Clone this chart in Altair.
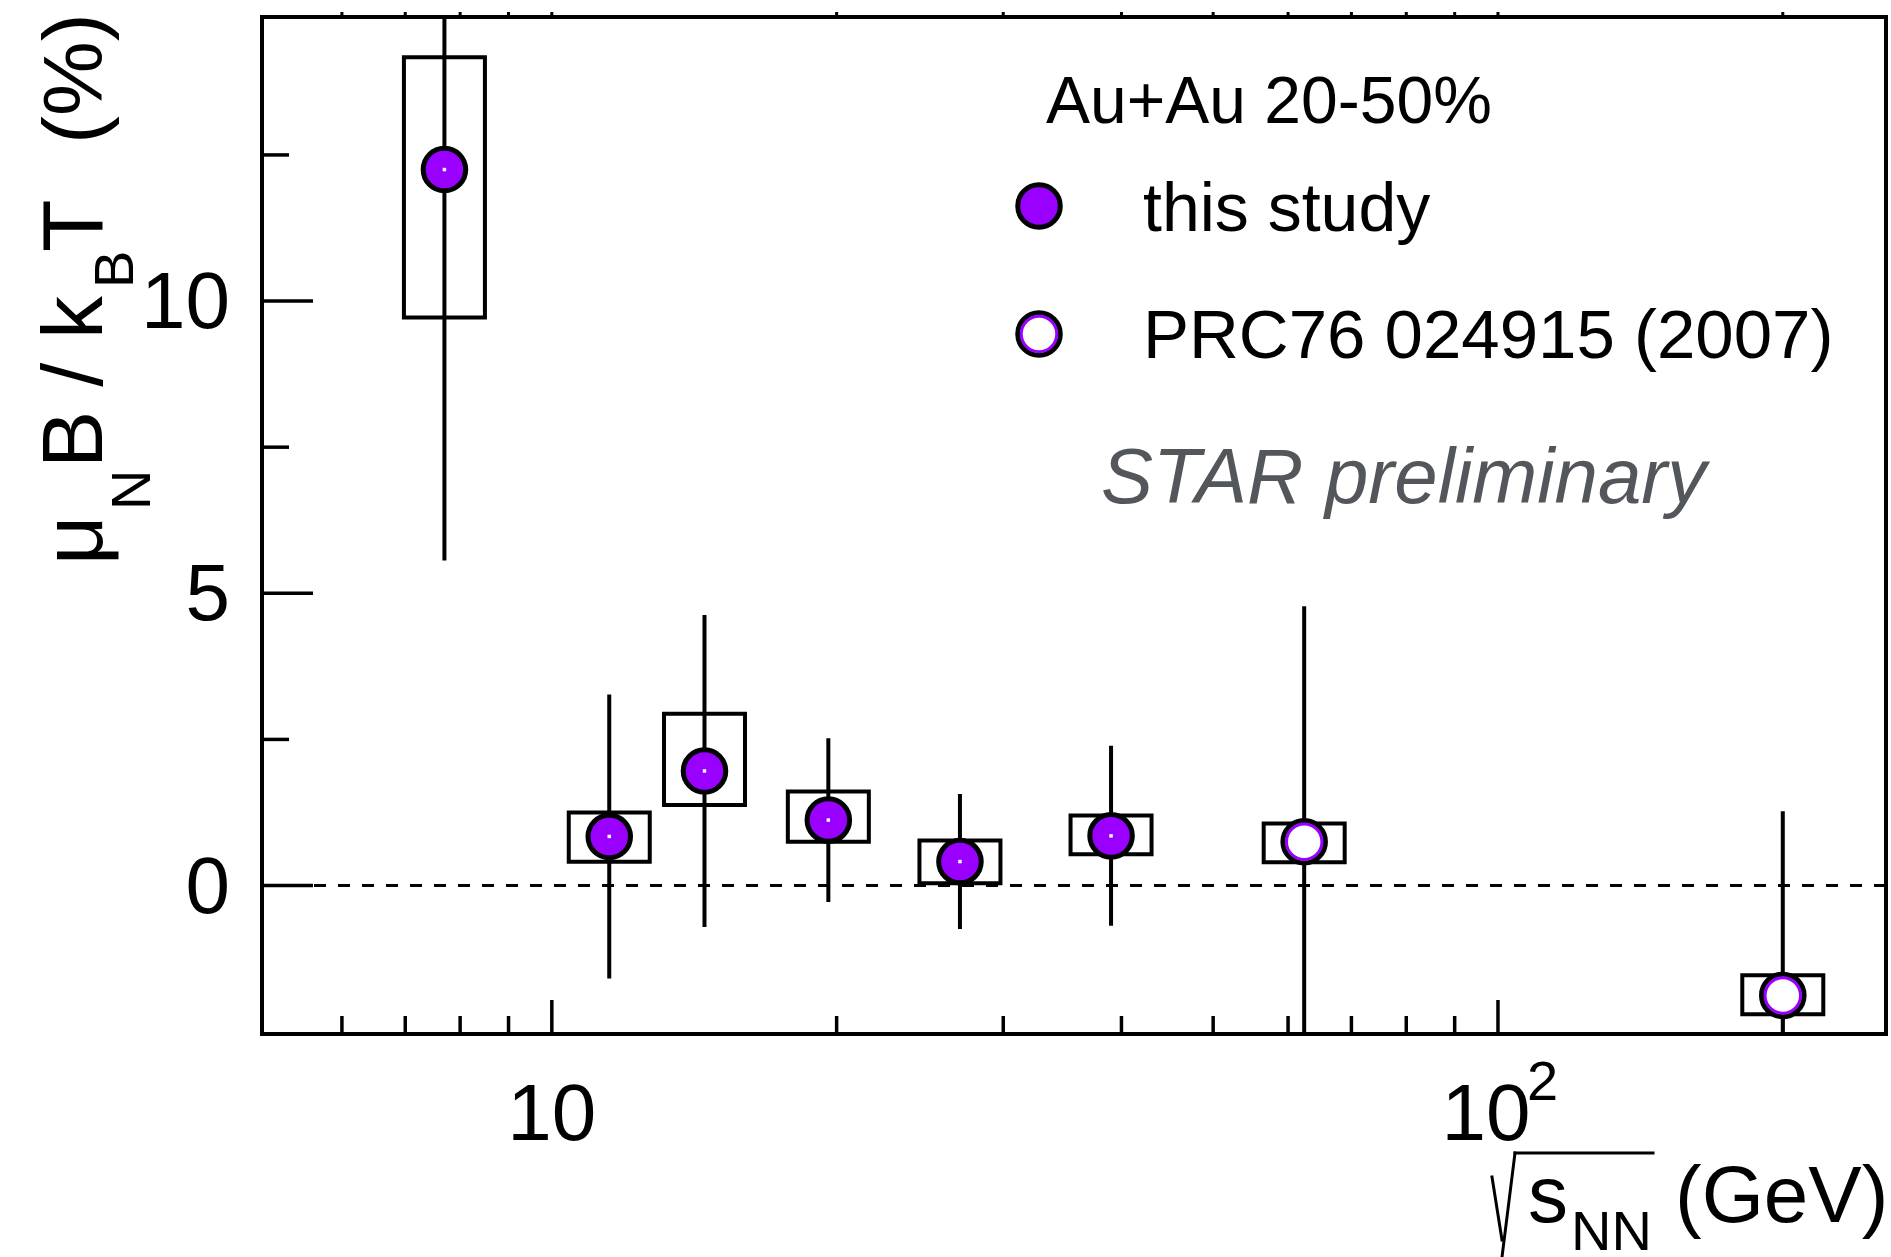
import altair as alt
import pandas as pd

# ---------------- data ----------------
energy_this = [7.7, 11.5, 14.5, 19.6, 27, 39]
mu_this = [12.25, 0.84, 1.96, 1.12, 0.41, 0.85]
stat_this = [6.69, 2.43, 2.67, 1.40, 1.155, 1.54]
sys_lo_this = [9.72, 0.405, 1.38, 0.75, 0.04, 0.535]
sys_hi_this = [14.17, 1.25, 2.94, 1.61, 0.77, 1.20]

energy_prc = [62.4, 200]
mu_prc = [0.75, -1.88]
stat_prc = [4.03, 3.15]
sys_lo_prc = [0.40, -2.20]
sys_hi_prc = [1.06, -1.535]

y_major = [0, 5, 10]
y_minor = [2.5, 7.5, 12.5]
y_labels = ["0", "5", "10"]
x_major = [10, 100]
x_minor = [6, 7, 8, 9, 20, 30, 40, 50, 60, 70, 80, 90, 200]
x_top = [6, 7, 8, 9, 10, 20, 30, 40, 50, 60, 70, 80, 90, 100, 200]
zero_line = [0]

legend_title = "Au+Au 20-50%"
legend_this = "this study"
legend_prc = "PRC76 024915 (2007)"
watermark = "STAR preliminary"

# ---------------- styling ----------------
PURPLE = "#9900ff"
FONT = "Liberation Sans"
W, H = 1624, 1017

x_scale = alt.Scale(type="log", domain=[5, 254], nice=False)
y_scale = alt.Scale(domain=[-2.54, 14.86], nice=False, zero=False)


def frame(energy, mu, stat, sys_lo, sys_hi):
    df = pd.DataFrame({"e": energy, "mu": mu, "stat": stat,
                       "sys_lo": sys_lo, "sys_hi": sys_hi})
    df["stat_lo"] = df["mu"] - df["stat"]
    df["stat_hi"] = df["mu"] + df["stat"]
    return df


df_this = frame(energy_this, mu_this, stat_this, sys_lo_this, sys_hi_this)
df_prc = frame(energy_prc, mu_prc, stat_prc, sys_lo_prc, sys_hi_prc)
df_all = pd.concat([df_this, df_prc], ignore_index=True)

X = alt.X("e:Q", scale=x_scale, axis=None)
Y = alt.Y("mu:Q", scale=y_scale, axis=None)

layers = []

# dashed zero line
layers.append(
    alt.Chart(pd.DataFrame({"v": zero_line}))
    .mark_rule(color="black", strokeWidth=3, strokeDash=[12, 12])
    .encode(y=alt.Y("v:Q", scale=y_scale, axis=None))
)

# systematic boxes
layers.append(
    alt.Chart(df_all)
    .mark_bar(width=81, fillOpacity=0, stroke="black", strokeWidth=4, clip=True)
    .encode(x=X, y=alt.Y("sys_lo:Q", scale=y_scale, axis=None), y2="sys_hi:Q")
)

# statistical error bars
layers.append(
    alt.Chart(df_all)
    .mark_rule(color="black", strokeWidth=4, clip=True)
    .encode(x=X, y=alt.Y("stat_lo:Q", scale=y_scale, axis=None), y2="stat_hi:Q")
)

# markers: this study (filled)
SIZE_OUT = 1810
SIZE_RING = 1257
layers.append(
    alt.Chart(df_this)
    .mark_point(shape="circle", filled=True, fill=PURPLE, stroke="black",
                strokeWidth=5, size=SIZE_OUT, opacity=1)
    .encode(x=X, y=Y)
)
layers.append(
    alt.Chart(df_this)
    .mark_point(shape="square", filled=True, fill="white", size=12, opacity=1)
    .encode(x=X, y=Y)
)
# markers: PRC76 (open)
layers.append(
    alt.Chart(df_prc)
    .mark_point(shape="circle", filled=True, fill="white", stroke="black",
                strokeWidth=5, size=SIZE_OUT, opacity=1)
    .encode(x=X, y=Y)
)
layers.append(
    alt.Chart(df_prc)
    .mark_point(shape="circle", filled=True, fill="white", stroke=PURPLE,
                strokeWidth=3, size=SIZE_RING, opacity=1)
    .encode(x=X, y=Y)
)

# ---------------- inward ticks ----------------
layers.append(
    alt.Chart(pd.DataFrame({"v": y_major}))
    .mark_rule(color="black", strokeWidth=3.5)
    .encode(y=alt.Y("v:Q", scale=y_scale, axis=None), x=alt.value(0), x2=alt.value(51))
)
layers.append(
    alt.Chart(pd.DataFrame({"v": y_minor}))
    .mark_rule(color="black", strokeWidth=3.5)
    .encode(y=alt.Y("v:Q", scale=y_scale, axis=None), x=alt.value(0), x2=alt.value(27))
)
layers.append(
    alt.Chart(pd.DataFrame({"v": x_major}))
    .mark_rule(color="black", strokeWidth=3.5)
    .encode(x=alt.X("v:Q", scale=x_scale, axis=None), y=alt.value(H), y2=alt.value(H - 34))
)
layers.append(
    alt.Chart(pd.DataFrame({"v": x_minor}))
    .mark_rule(color="black", strokeWidth=3.5)
    .encode(x=alt.X("v:Q", scale=x_scale, axis=None), y=alt.value(H), y2=alt.value(H - 18))
)
layers.append(
    alt.Chart(pd.DataFrame({"v": x_top}))
    .mark_rule(color="black", strokeWidth=3)
    .encode(x=alt.X("v:Q", scale=x_scale, axis=None), y=alt.value(-5), y2=alt.value(0))
)

# ---------------- tick labels ----------------
layers.append(
    alt.Chart(pd.DataFrame({"v": y_major, "t": y_labels}))
    .mark_text(align="right", baseline="middle", font=FONT, fontSize=80, color="black", dy=3)
    .encode(y=alt.Y("v:Q", scale=y_scale, axis=None), x=alt.value(-32), text="t:N")
)
layers.append(
    alt.Chart(pd.DataFrame({"v": [x_major[0]], "t": ["10"]}))
    .mark_text(align="center", baseline="alphabetic", font=FONT, fontSize=80, color="black")
    .encode(x=alt.X("v:Q", scale=x_scale, axis=None), y=alt.value(1123), text="t:N")
)
layers.append(
    alt.Chart(pd.DataFrame({"v": [x_major[1]], "t": ["10"]}))
    .mark_text(align="center", baseline="alphabetic", font=FONT, fontSize=80, color="black", dx=-12)
    .encode(x=alt.X("v:Q", scale=x_scale, axis=None), y=alt.value(1123), text="t:N")
)
layers.append(
    alt.Chart(pd.DataFrame({"v": [x_major[1]], "t": ["2"]}))
    .mark_text(align="left", baseline="alphabetic", font=FONT, fontSize=56, color="black", dx=29)
    .encode(x=alt.X("v:Q", scale=x_scale, axis=None), y=alt.value(1083), text="t:N")
)


def label(text, x, y, size, angle=0, align="left", color="black", style="normal", weight="normal"):
    kw = dict(align=align, baseline="alphabetic", font=FONT, fontSize=size, color=color,
              fontStyle=style, fontWeight=weight)
    if angle:
        kw["angle"] = angle
    return (
        alt.Chart(pd.DataFrame({"t": [text]}))
        .mark_text(**kw)
        .encode(x=alt.value(x), y=alt.value(y), text="t:N")
    )


def stroke(x1, y1, x2, y2, width=3):
    return (
        alt.Chart(pd.DataFrame({"t": [0]}))
        .mark_rule(color="black", strokeWidth=width, strokeCap="square")
        .encode(x=alt.value(x1), y=alt.value(y1), x2=alt.value(x2), y2=alt.value(y2))
    )


# ---------------- y axis title: mu_N B / k_B T  (%) ----------------
layers.append(label("\u03bc", -160, 548, 86, angle=270))
layers.append(label("N", -112, 493, 56, angle=270))
layers.append(label("B / k", -160, 451, 86, angle=270))
layers.append(label("B", -129, 271, 56, angle=270))
layers.append(label("T", -160, 235, 86, angle=270))
layers.append(label("(%)", -160, 127, 84, angle=270))

# ---------------- x axis title: sqrt(s_NN) (GeV) ----------------
# radical sign drawn as strokes
layers.append(stroke(1230, 1160, 1240, 1223))
layers.append(stroke(1240, 1240, 1253, 1136))
layers.append(stroke(1253, 1136, 1391, 1136))
layers.append(label("s", 1266, 1205, 80))
layers.append(label("NN", 1309, 1233, 56))
layers.append(label("(GeV)", 1413, 1205, 80))

# ---------------- legend ----------------
layers.append(label(legend_title, 784, 106, 66))
layers.append(label(legend_this, 881, 214, 68))
layers.append(label(legend_prc, 881, 341, 69))
layers.append(label(watermark, 839, 486, 78, color="#53575c", style="italic"))

leg_df = pd.DataFrame({"t": [0]})
layers.append(
    alt.Chart(leg_df)
    .mark_point(shape="circle", filled=True, fill=PURPLE, stroke="black",
                strokeWidth=5, size=SIZE_OUT, opacity=1)
    .encode(x=alt.value(777), y=alt.value(189))
)
layers.append(
    alt.Chart(leg_df)
    .mark_point(shape="circle", filled=True, fill="white", stroke="black",
                strokeWidth=5, size=SIZE_OUT, opacity=1)
    .encode(x=alt.value(777), y=alt.value(317))
)
layers.append(
    alt.Chart(leg_df)
    .mark_point(shape="circle", filled=True, fill="white", stroke=PURPLE,
                strokeWidth=3, size=SIZE_RING, opacity=1)
    .encode(x=alt.value(777), y=alt.value(317))
)

chart = (
    alt.layer(*layers)
    .properties(
        width=W,
        height=H,
        autosize=alt.AutoSizeParams(type="none"),
        padding={"left": 262, "top": 17, "right": 5, "bottom": 223},
        background="white",
    )
    .configure_view(stroke="black", strokeWidth=4)
)

chart.save("out.html", embed_options={"renderer": "svg", "actions": False})
